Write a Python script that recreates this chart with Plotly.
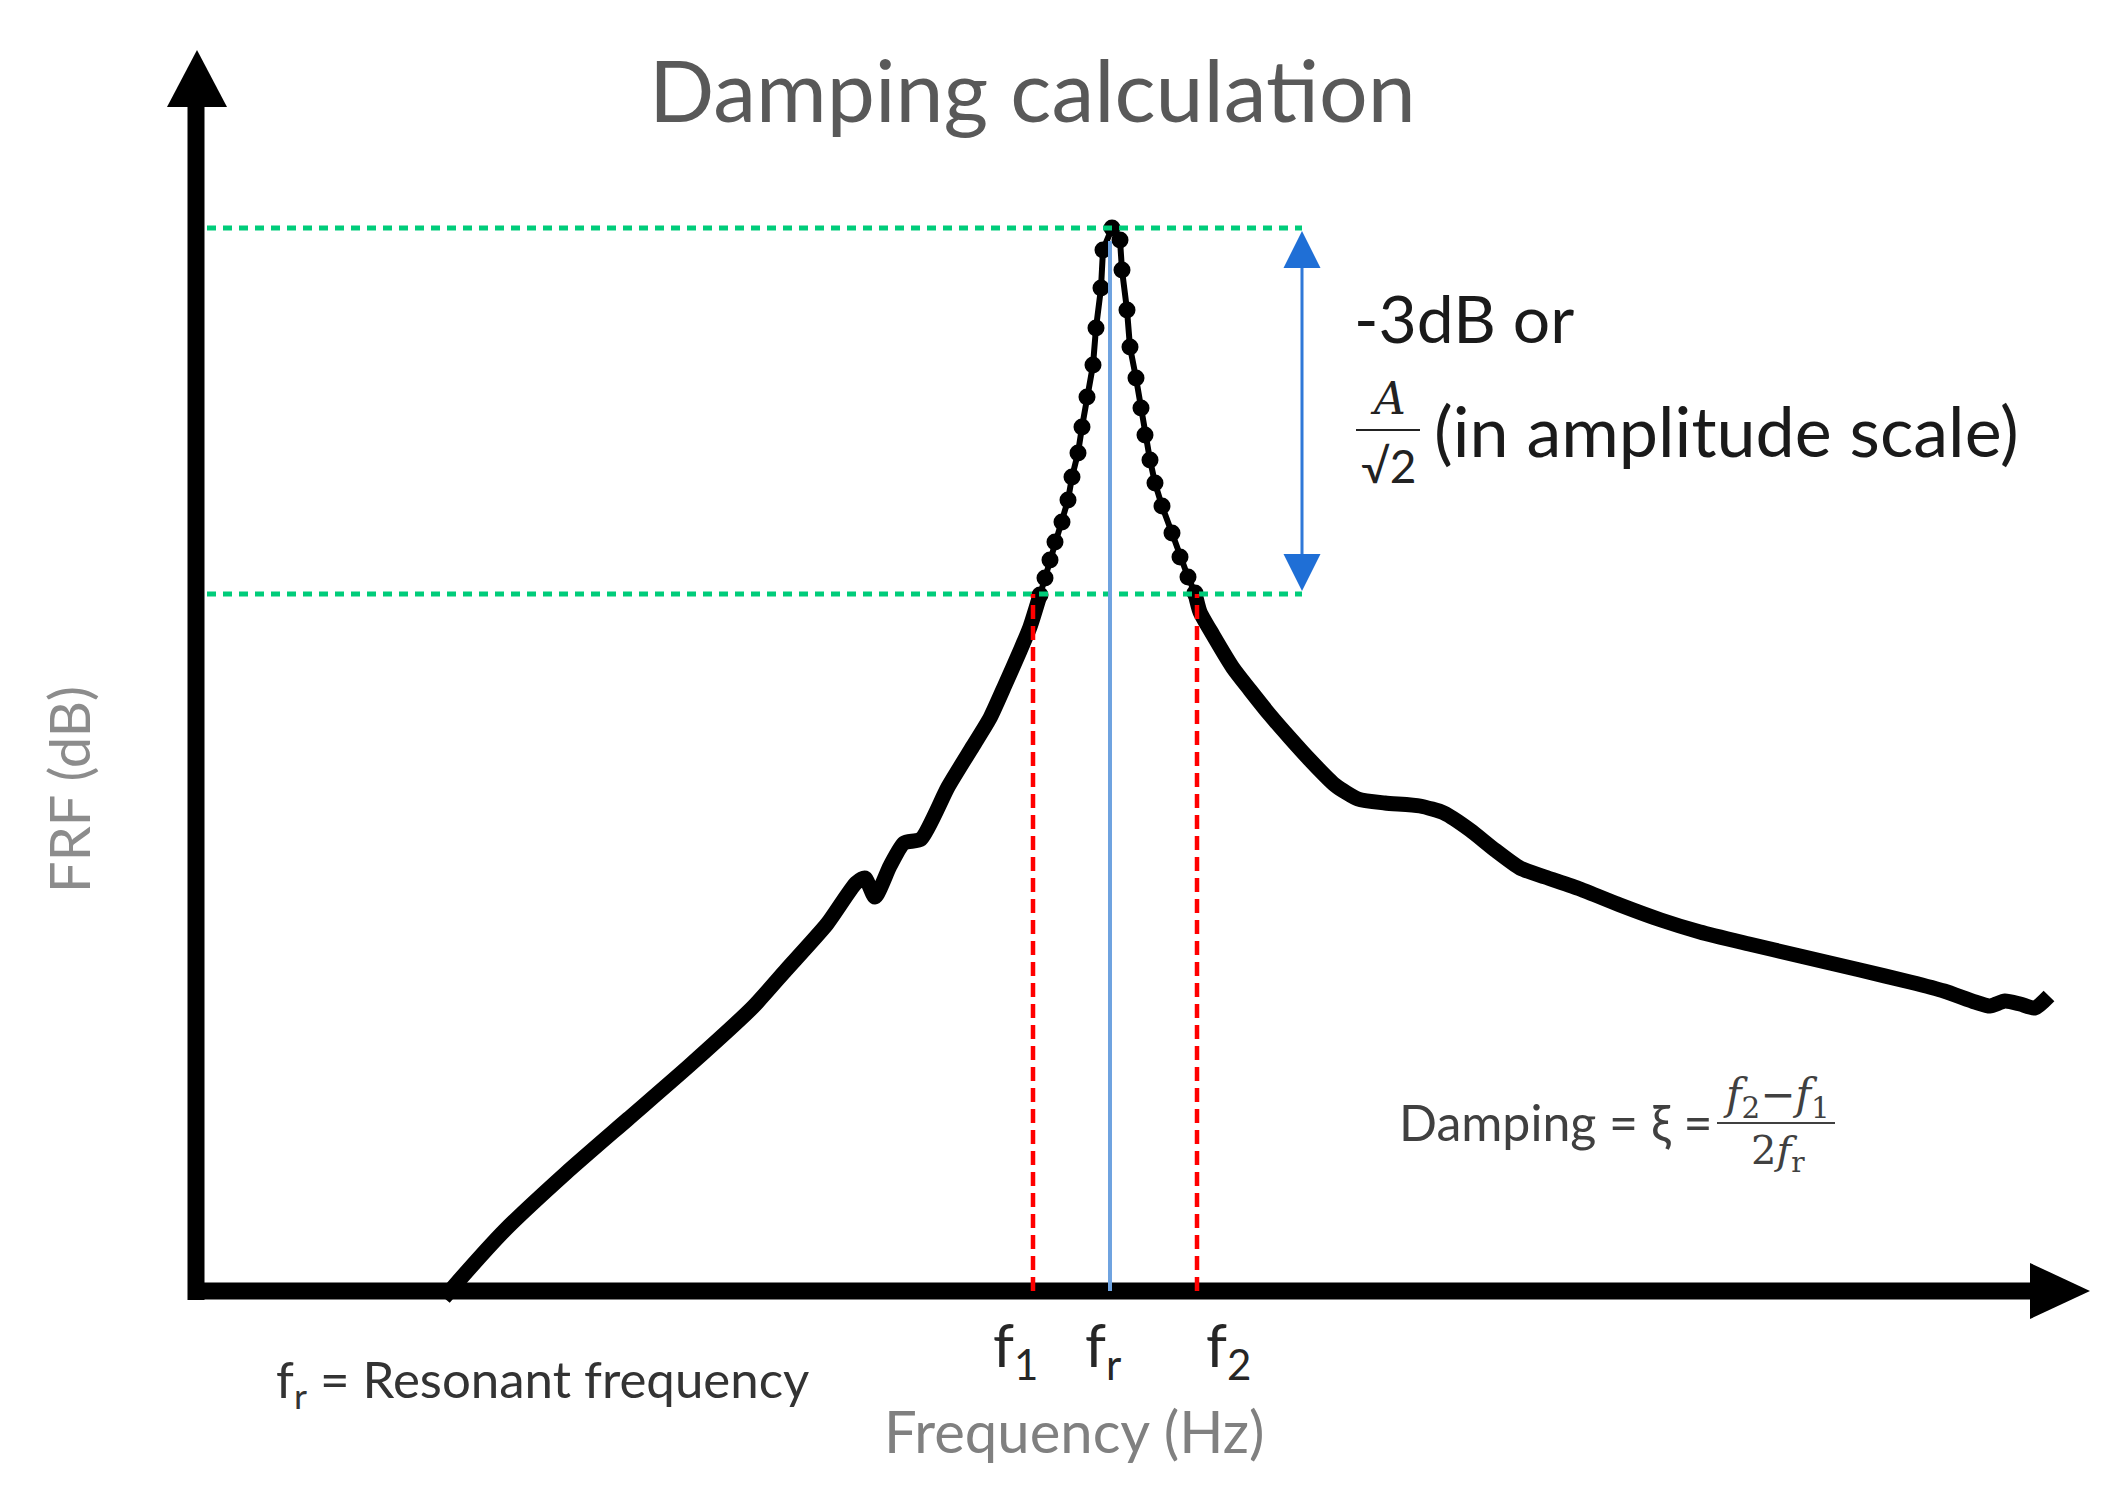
import plotly.graph_objects as go

# ---------------- data (arbitrary frequency units / FRF dB units) ----------------
freq_low = [24.4, 26.2, 30.4, 36.6, 42.8, 49.0, 55.3, 58.6, 62.7, 65.6, 66.5, 67.5,
            69.0, 70.4, 72.1, 74.8, 77.3, 79.0, 80.5, 82.0, 83.0, 84.0]
frf_low = [-0.7, 1.4, 6.0, 11.8, 17.2, 22.6, 28.4, 32.1, 36.7, 40.8, 41.3, 39.4,
           42.5, 44.8, 45.2, 50.4, 54.5, 57.3, 60.6, 64.0, 66.4, 69.6]

freq_peak = [84.0, 84.5, 85.0, 85.5, 86.2, 86.8, 87.2, 87.8, 88.2, 88.7, 89.3, 89.6,
             90.1, 90.3, 91.2, 92.0, 92.2, 92.7, 93.0, 93.6, 94.1, 94.5, 95.0, 95.5,
             96.2, 97.2, 98.0, 98.8, 99.5]
frf_peak = [69.6, 71.3, 73.1, 74.9, 76.9, 79.1, 81.4, 83.8, 86.4, 89.4, 92.6, 96.3,
            100.3, 104.1, 106.3, 105.1, 102.1, 98.1, 94.4, 91.3, 88.3, 85.6, 83.1, 80.8,
            78.5, 75.8, 73.4, 71.4, 69.8]

freq_high = [99.5, 100.0, 101.3, 103.3, 105.0, 107.0, 109.0, 111.0, 113.5, 115.8, 118.5,
             122.0, 124.4, 127.0, 129.5, 132.0, 134.5, 138.0, 142.0, 146.1, 150.0, 154.9,
             160.0, 166.0, 171.0, 174.4, 177.5, 179.0, 180.5, 182.0, 183.5, 184.9]
frf_high = [69.8, 67.9, 65.6, 62.3, 60.1, 57.6, 55.3, 53.1, 50.6, 49.2, 48.8,
            48.5, 47.8, 46.1, 44.1, 42.3, 41.4, 40.2, 38.6, 37.1, 35.9, 34.7,
            33.5, 32.1, 30.9, 30.0, 28.9, 28.5, 29.0, 28.7, 28.3, 29.5]

f1, fr, f2 = 83.3, 91.0, 99.7
peak_db = 106.3
half_power_db = 69.7
freq_labels = ["f<sub>1</sub>", "f<sub>r</sub>", "f<sub>2</sub>"]
freq_label_pos = [81.5, 90.3, 102.8]

X_RANGE = [-19.2, 192.8]
Y_RANGE = [-22.0, 128.3]

FONT = "Lato"

fig = go.Figure()

fig.add_trace(go.Scatter(x=freq_low, y=frf_low, mode="lines",
                         line=dict(color="black", width=15, shape="spline", smoothing=0.6),
                         hoverinfo="skip"))
fig.add_trace(go.Scatter(x=freq_high, y=frf_high, mode="lines",
                         line=dict(color="black", width=15, shape="spline", smoothing=0.6),
                         hoverinfo="skip"))
fig.add_trace(go.Scatter(x=freq_peak, y=frf_peak, mode="lines+markers",
                         line=dict(color="black", width=6),
                         marker=dict(color="black", size=17), hoverinfo="skip"))

shapes = []
# axes with arrowheads
shapes.append(dict(type="line", x0=-0.4, x1=-0.4, y0=-0.9, y1=118.8,
                   line=dict(color="black", width=17)))
shapes.append(dict(type="path", path="M -3.3,118.4 L 2.7,118.4 L -0.3,124.1 Z",
                   fillcolor="black", line=dict(width=0)))
shapes.append(dict(type="line", x0=-1.1, x1=183.4, y0=0, y1=0,
                   line=dict(color="black", width=17)))
shapes.append(dict(type="path", path="M 183.0,2.8 L 183.0,-2.8 L 189.0,0 Z",
                   fillcolor="black", line=dict(width=0)))
# green reference levels
for lvl in (peak_db, half_power_db):
    shapes.append(dict(type="line", x0=0.7, x1=110.2, y0=lvl, y1=lvl,
                       line=dict(color="#00CC7A", width=5, dash="9px,7px")))
# resonance line
shapes.append(dict(type="line", x0=fr, x1=fr, y0=0, y1=105.0,
                   line=dict(color="#6FA3E0", width=4)))
# half-power frequencies
for fx in (f1, f2):
    shapes.append(dict(type="line", x0=fx, x1=fx, y0=0, y1=half_power_db,
                       line=dict(color="#FF0000", width=4.5, dash="14px,7px")))
# blue double arrow
shapes.append(dict(type="line", x0=110.2, x1=110.2, y0=73.6, y1=102.4,
                   line=dict(color="#2F78D8", width=3)))
shapes.append(dict(type="path", path="M 108.35,102.3 L 112.05,102.3 L 110.2,106.0 Z",
                   fillcolor="#1F6FD6", line=dict(width=0)))
shapes.append(dict(type="path", path="M 108.35,73.7 L 112.05,73.7 L 110.2,70.0 Z",
                   fillcolor="#1F6FD6", line=dict(width=0)))
# fraction bars
shapes.append(dict(type="line", x0=115.6, x1=122.0, y0=86.1, y1=86.1,
                   line=dict(color="#222222", width=2)))
shapes.append(dict(type="line", x0=151.7, x1=163.5, y0=16.8, y1=16.8,
                   line=dict(color="#404040", width=2)))

ann = []
def add_text(x, y, text, size, color, xanchor="center", family=FONT, angle=0):
    ann.append(dict(x=x, y=y, xref="x", yref="y", text=text, showarrow=False,
                    xanchor=xanchor, yanchor="middle", textangle=angle,
                    font=dict(family=family, size=size, color=color)))

add_text(83.2, 120.3, "Damping calculation", 86, "#595959")
add_text(-13.2, 50.1, "FRF (dB)", 56, "#8C8C8C", angle=-90)
add_text(87.4, -13.9, "Frequency (Hz)", 58, "#808080")
add_text(7.4, -9.1, "f<sub>r</sub> = Resonant frequency", 51, "#333333", xanchor="left")
for lab, pos in zip(freq_labels, freq_label_pos):
    add_text(pos, -5.7, lab, 60, "#262626")
add_text(115.2, 97.4, "-3dB or", 66, "#1A1A1A", xanchor="left")
add_text(118.8, 89.3, "<i>A</i>", 44, "#222222", family="DejaVu Serif")
add_text(118.8, 82.6, "√2", 46, "#222222")
add_text(123.2, 86.1, "(in amplitude scale)", 70, "#1A1A1A", xanchor="left")
add_text(119.7, 16.9, "Damping = ξ =", 50, "#404040", xanchor="left")
add_text(157.6, 19.4, "<i>f</i><sub>2</sub>−<i>f</i><sub>1</sub>", 42, "#404040",
         family="DejaVu Serif")
add_text(157.8, 13.8, "2<i>f</i><sub>r</sub>", 40, "#404040", family="DejaVu Serif")

fig.update_layout(
    width=2120, height=1503,
    margin=dict(l=0, r=0, t=0, b=0),
    paper_bgcolor="white", plot_bgcolor="white",
    showlegend=False,
    xaxis=dict(range=X_RANGE, visible=False, fixedrange=True),
    yaxis=dict(range=Y_RANGE, visible=False, fixedrange=True),
    shapes=shapes, annotations=ann,
)

fig.write_html("out.html")
